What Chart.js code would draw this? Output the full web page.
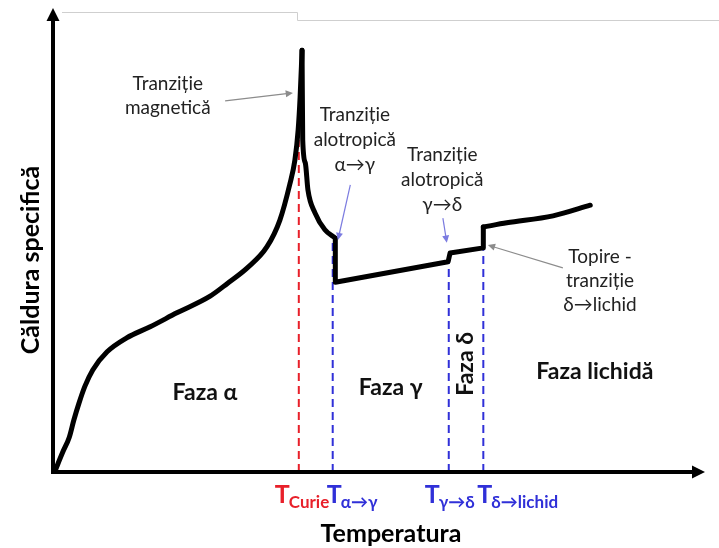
<!DOCTYPE html>
<html>
<head>
<meta charset="utf-8">
<title>Căldura specifică a fierului</title>
<script src="https://cdn.jsdelivr.net/npm/chart.js@4"></script>
<style>
  html, body { margin: 0; padding: 0; background: #fff; }
  #wrap { width: 719px; height: 548px; position: relative; }
</style>
</head>
<body>
<div id="wrap"><canvas id="cpChart"></canvas></div>
<script>
// specific heat curve, arbitrary units (x = temperature, y = heat capacity)
const alphaRise = [
  [0.3, 0.2], [1.5, 4.3], [2.5, 7.5], [3.2, 11.2], [4.0, 14.9], [4.9, 18.5],
  [6.1, 22.0], [8.3, 25.9], [11.3, 28.9], [14.9, 31.3], [19.0, 34.3],
  [24.1, 37.9], [26.8, 40.7], [29.8, 44.0], [32.8, 48.5], [34.8, 54.3],
  [36.3, 61.9], [37.1, 67.2], [37.6, 73.7], [37.9, 80.8], [38.2, 90.9]
];
const alphaFall = [
  [38.2, 90.9], [38.3, 71.6], [38.7, 66.6], [39.1, 60.8], [40.2, 55.8],
  [41.7, 52.2], [43.3, 50.4]
];
const gammaDelta = [
  [43.3, 50.4], [43.3, 40.9], [60.6, 45.3], [60.9, 47.2], [66.0, 48.3], [66.0, 52.8]
];
const liquid = [
  [66.0, 52.8], [69.6, 53.7], [76.7, 55.2], [82.4, 57.5]
];

// transition temperatures and the height where each dashed marker stops
const transTemps = [37.7, 42.9, 60.7, 66.0];
const transTops = [71.6, 49.4, 45.3, 47.8];
const transSubs = ['Curie', 'α→γ', 'γ→δ', 'δ→lichid'];
const transColors = ['#e8202a', '#3030d8', '#3030d8', '#3030d8'];

const toPts = arr => arr.map(p => ({ x: p[0], y: p[1] }));

const curveStyle = {
  borderColor: '#000',
  borderWidth: 5,
  pointRadius: 0,
  showLine: true,
  fill: false,
  borderCapStyle: 'round',
  borderJoinStyle: 'round'
};

const datasets = [
  Object.assign({ data: toPts(alphaRise), cubicInterpolationMode: 'monotone' }, curveStyle),
  Object.assign({ data: toPts(alphaFall), cubicInterpolationMode: 'monotone' }, curveStyle),
  Object.assign({ data: toPts(gammaDelta), tension: 0 }, curveStyle),
  Object.assign({ data: toPts(liquid), cubicInterpolationMode: 'monotone' }, curveStyle)
];

transTemps.forEach((t, i) => {
  datasets.push({
    data: [{ x: t, y: 0 }, { x: t, y: transTops[i] }],
    showLine: true,
    borderColor: transColors[i],
    borderWidth: 2,
    borderDash: [8, 5],
    pointRadius: 0,
    order: 1
  });
});

const FONT = 'Lato, "Open Sans", "DejaVu Sans", sans-serif';

function arrow(ctx, x1, y1, x2, y2, color, lw, head) {
  const a = Math.atan2(y2 - y1, x2 - x1);
  ctx.save();
  ctx.strokeStyle = color;
  ctx.fillStyle = color;
  ctx.lineWidth = lw;
  ctx.beginPath();
  ctx.moveTo(x1, y1);
  ctx.lineTo(x2 - Math.cos(a) * head * 0.8, y2 - Math.sin(a) * head * 0.8);
  ctx.stroke();
  ctx.beginPath();
  ctx.moveTo(x2, y2);
  ctx.lineTo(x2 - head * Math.cos(a - 0.45), y2 - head * Math.sin(a - 0.45));
  ctx.lineTo(x2 - head * Math.cos(a + 0.45), y2 - head * Math.sin(a + 0.45));
  ctx.closePath();
  ctx.fill();
  ctx.restore();
}

// callout notes: text lines, text centre, arrow start and end (data units)
const notes = [
  { lines: ['Tranziție', 'magnetică'], x: 17.6, y: [83.6, 78.4], from: [26.4, 80.0], to: [36.8, 81.7], color: '#8c8c8c' },
  { lines: ['Tranziție', 'alotropică', 'α→γ'], x: 46.3, y: [76.9, 71.6, 66.2], from: [45.6, 61.9], to: [43.7, 50.0], color: '#7b7be0' },
  { lines: ['Tranziție', 'alotropică', 'γ→δ'], x: 59.7, y: [68.3, 62.9, 57.5], from: [59.8, 54.7], to: [60.4, 49.4], color: '#7b7be0' },
  { lines: ['Topire -', 'tranziție', 'δ→lichid'], x: 83.9, y: [46.3, 41.2, 36.0], from: [78.2, 44.0], to: [66.7, 48.9], color: '#8c8c8c' }
];

const decorations = {
  id: 'decorations',
  afterDatasetsDraw(chart) {
    const ctx = chart.ctx;
    const xs = chart.scales.x, ys = chart.scales.y;
    const px = v => xs.getPixelForValue(v);
    const py = v => ys.getPixelForValue(v);
    const x0 = px(0), y0 = py(0);

    ctx.save();

    // faint frame edge along the top
    ctx.strokeStyle = '#cfcfcf';
    ctx.lineWidth = 1;
    ctx.beginPath();
    ctx.moveTo(62, 12.5);
    ctx.lineTo(297.5, 12.5);
    ctx.lineTo(297.5, 20.5);
    ctx.lineTo(719, 20.5);
    ctx.stroke();

    // axes with arrow heads
    ctx.strokeStyle = '#000';
    ctx.fillStyle = '#000';
    ctx.lineWidth = 4;
    ctx.lineCap = 'butt';
    ctx.beginPath();
    ctx.moveTo(x0, y0 + 2);
    ctx.lineTo(x0, chart.chartArea.top + 12);
    ctx.moveTo(x0 - 2, y0);
    ctx.lineTo(chart.chartArea.right - 12, y0);
    ctx.stroke();
    ctx.beginPath();
    ctx.moveTo(x0, chart.chartArea.top);
    ctx.lineTo(x0 - 6.5, chart.chartArea.top + 13);
    ctx.lineTo(x0 + 6.5, chart.chartArea.top + 13);
    ctx.closePath();
    ctx.fill();
    ctx.beginPath();
    ctx.moveTo(chart.chartArea.right, y0);
    ctx.lineTo(chart.chartArea.right - 13, y0 - 6.5);
    ctx.lineTo(chart.chartArea.right - 13, y0 + 6.5);
    ctx.closePath();
    ctx.fill();

    // callouts
    ctx.textAlign = 'center';
    ctx.textBaseline = 'middle';
    ctx.font = '19px ' + FONT;
    notes.forEach(n => {
      ctx.fillStyle = '#222';
      n.lines.forEach((s, i) => ctx.fillText(s, px(n.x), py(n.y[i])));
      arrow(ctx, px(n.from[0]), py(n.from[1]), px(n.to[0]), py(n.to[1]), n.color, 1.2, 8);
    });

    // phase labels
    ctx.fillStyle = '#111';
    ctx.font = 'bold 23px ' + FONT;
    ctx.fillText('Faza α', px(23.3), py(17.2));
    ctx.fillText('Faza γ', px(51.8), py(18.1));
    ctx.fillText('Faza lichidă', px(83.1), py(21.6));
    ctx.save();
    ctx.translate(px(63.3), py(23.3));
    ctx.rotate(-Math.PI / 2);
    ctx.fillText('Faza δ', 0, 0);
    ctx.restore();

    // transition temperature labels under the axis
    const offs = [-24, -6, -24, -6];
    ctx.textAlign = 'left';
    ctx.textBaseline = 'alphabetic';
    transTemps.forEach((t, i) => {
      const lx = px(t) + offs[i];
      ctx.fillStyle = transColors[i];
      ctx.font = 'bold 25px ' + FONT;
      ctx.fillText('T', lx, 503);
      const w = ctx.measureText('T').width;
      ctx.font = 'bold 17px ' + FONT;
      ctx.fillText(transSubs[i], lx + w - 1, 508);
    });

    // axis titles
    ctx.fillStyle = '#000';
    ctx.font = 'bold 25px ' + FONT;
    ctx.textAlign = 'center';
    ctx.textBaseline = 'middle';
    ctx.fillText('Temperatura', 391, 534);
    ctx.save();
    ctx.translate(31, 260);
    ctx.rotate(-Math.PI / 2);
    ctx.fillText('Căldura specifică', 0, 0);
    ctx.restore();

    ctx.restore();
  }
};

new Chart(document.getElementById('cpChart'), {
  type: 'scatter',
  data: { datasets: datasets },
  options: {
    responsive: true,
    maintainAspectRatio: false,
    animation: false,
    layout: { padding: { left: 53, right: 14, top: 8, bottom: 76 } },
    scales: {
      x: { type: 'linear', min: 0, max: 100, display: false },
      y: { type: 'linear', min: 0, max: 100, display: false }
    },
    plugins: {
      legend: { display: false },
      tooltip: { enabled: false }
    }
  },
  plugins: [decorations]
});
</script>
</body>
</html>
